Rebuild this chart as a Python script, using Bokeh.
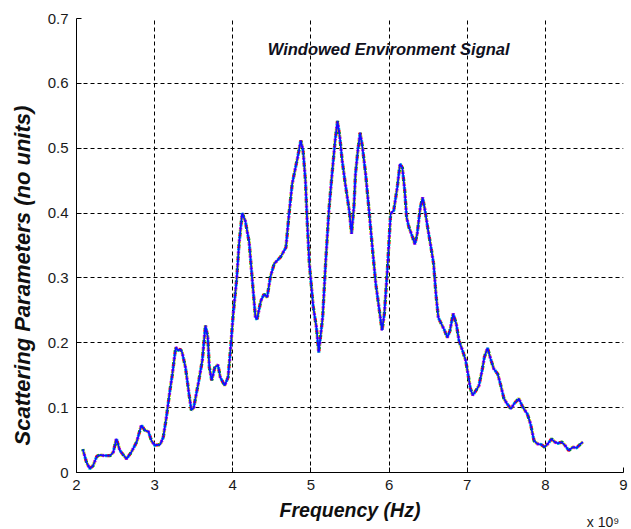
import math
from bokeh.plotting import figure
from bokeh.models import Range1d, FixedTicker, Label, Title
from bokeh.embed import file_html
from bokeh.resources import INLINE

# Frequency axis (units of 1e9 Hz) and the windowed scattering-parameter magnitude
freq_ghz = [
    2.08, 2.13, 2.17, 2.21, 2.26, 2.30, 2.36, 2.43, 2.47, 2.51, 2.555, 2.60, 2.64,
    2.70, 2.77, 2.83, 2.875, 2.92, 2.96, 3.00, 3.07, 3.11, 3.15, 3.195, 3.225, 3.27,
    3.30, 3.33, 3.35, 3.395, 3.44, 3.47, 3.50, 3.566, 3.61, 3.65, 3.68, 3.70, 3.73,
    3.77, 3.81, 3.84, 3.895, 3.94, 3.97, 4.006, 4.05, 4.08, 4.12, 4.16, 4.21, 4.25,
    4.29, 4.31, 4.36, 4.40, 4.44, 4.48, 4.53, 4.61, 4.68, 4.72, 4.76, 4.83, 4.87,
    4.90, 4.93, 4.95, 4.98, 5.03, 5.07, 5.10, 5.15, 5.19, 5.23, 5.27, 5.31, 5.34,
    5.37, 5.40, 5.44, 5.49, 5.52, 5.55, 5.57, 5.60, 5.63, 5.66, 5.70, 5.74, 5.79,
    5.83, 5.87, 5.91, 5.94, 5.98, 6.02, 6.06, 6.105, 6.14, 6.17, 6.20, 6.225, 6.255,
    6.30, 6.33, 6.36, 6.40, 6.43, 6.46, 6.50, 6.53, 6.57, 6.60, 6.63, 6.67, 6.71,
    6.745, 6.78, 6.82, 6.86, 6.895, 6.94, 6.98, 7.01, 7.04, 7.07, 7.11, 7.15, 7.19,
    7.22, 7.26, 7.30, 7.34, 7.39, 7.43, 7.47, 7.51, 7.56, 7.60, 7.66, 7.71, 7.77,
    7.81, 7.855, 7.90, 7.95, 7.99, 8.03, 8.08, 8.12, 8.16, 8.21, 8.25, 8.30, 8.35,
    8.40, 8.45, 8.48,
]
s_param = [
    0.036, 0.015, 0.006, 0.010, 0.025, 0.027, 0.026, 0.026, 0.031, 0.052, 0.034, 0.027, 0.021,
    0.031, 0.047, 0.073, 0.065, 0.063, 0.049, 0.042, 0.043, 0.054, 0.085, 0.126, 0.150, 0.193,
    0.188, 0.190, 0.186, 0.162, 0.121, 0.096, 0.100, 0.142, 0.173, 0.227, 0.209, 0.162, 0.142,
    0.162, 0.166, 0.147, 0.134, 0.147, 0.188, 0.245, 0.298, 0.352, 0.400, 0.388, 0.355, 0.296,
    0.239, 0.236, 0.265, 0.275, 0.270, 0.301, 0.322, 0.332, 0.347, 0.399, 0.445, 0.486, 0.512,
    0.496, 0.450, 0.393, 0.322, 0.255, 0.224, 0.185, 0.239, 0.327, 0.404, 0.460, 0.512, 0.542,
    0.517, 0.481, 0.445, 0.404, 0.368, 0.409, 0.460, 0.496, 0.524, 0.501, 0.460, 0.409, 0.342,
    0.291, 0.255, 0.219, 0.245, 0.316, 0.399, 0.404, 0.440, 0.476, 0.470, 0.435, 0.393, 0.378,
    0.363, 0.352, 0.368, 0.409, 0.424, 0.404, 0.373, 0.352, 0.322, 0.275, 0.239, 0.229, 0.219,
    0.208, 0.219, 0.245, 0.229, 0.203, 0.188, 0.173, 0.152, 0.130, 0.119, 0.126, 0.134, 0.157,
    0.178, 0.192, 0.175, 0.160, 0.152, 0.134, 0.114, 0.106, 0.098, 0.106, 0.114, 0.101, 0.090,
    0.075, 0.049, 0.044, 0.043, 0.039, 0.044, 0.052, 0.047, 0.045, 0.047, 0.042, 0.034, 0.039,
    0.038, 0.044, 0.047,
]

x_ticks = [2, 3, 4, 5, 6, 7, 8, 9]
y_ticks = [0, 0.1, 0.2, 0.3, 0.4, 0.5, 0.6, 0.7]
y_tick_labels = ["0", "0.1", "0.2", "0.3", "0.4", "0.5", "0.6", "0.7"]

# overlaid measurement traces drawn underneath the blue one
trace_colors = ["#00a000", "#ff0000", "#00c8c8", "#d000d0", "#c8c800"]
trace_offsets = [0, 2, 4, 7, 9]

font = "Liberation Sans"

p = figure(width=631, height=529, output_backend="svg", toolbar_location=None,
           x_range=Range1d(2, 9), y_range=Range1d(0, 0.7),
           min_border_left=76, min_border_right=8, min_border_top=18, min_border_bottom=57)
p.title_location = None
p.background_fill_color = "white"
p.border_fill_color = "white"
p.outline_line_color = None

for ax in (p.xaxis[0], p.yaxis[0]):
    ax.axis_line_color = "black"
    ax.axis_line_width = 1
    ax.major_tick_in = 5
    ax.major_tick_out = 0
    ax.minor_tick_line_color = None
    ax.major_tick_line_color = "black"
    ax.major_label_text_font = font
    ax.major_label_text_font_size = "15px"
    ax.major_label_text_color = "#1a1a1a"

p.xaxis.ticker = FixedTicker(ticks=x_ticks)
p.yaxis.ticker = FixedTicker(ticks=y_ticks)
p.yaxis.major_label_overrides = {t: s for t, s in zip(y_ticks, y_tick_labels)}
p.xaxis.major_label_standoff = 7
p.yaxis.major_label_standoff = 8

p.xaxis.axis_label = "Frequency (Hz)"
p.xaxis.axis_label_text_font = font
p.xaxis.axis_label_text_font_style = "bold italic"
p.xaxis.axis_label_text_font_size = "19.5px"
p.xaxis.axis_label_text_color = "#101010"
p.xaxis.axis_label_standoff = 6

for g in (p.xgrid[0], p.ygrid[0]):
    g.grid_line_color = "black"
    g.grid_line_dash = "4 3"
    g.grid_line_width = 1
    g.grid_line_alpha = 1.0

# colored measurement traces, speckled beneath the blue trace
for c, off in zip(trace_colors, trace_offsets):
    p.line(freq_ghz, s_param, line_color=c, line_width=3.3,
           line_dash="2 10", line_dash_offset=off)
p.line(freq_ghz, s_param, line_color="#1010ff", line_width=1.8)

p.add_layout(Label(x=5.995, y=0.653, text="Windowed Environment Signal",
                   text_font=font, text_font_style="bold italic",
                   text_font_size="16.5px", text_color="#101020",
                   text_align="center", text_baseline="middle"))

# vertical axis title, starting a little above the bottom of the axis
p.add_layout(Title(text="Scattering Parameters (no units)", align="left", offset=27,
                   vertical_align="middle", standoff=17, text_font=font,
                   text_font_style="bold italic", text_font_size="22px",
                   text_color="#101010"), "left")

# exponent of the frequency axis, drawn under the right end of the axis
p.add_layout(Label(x=8.53, y=-0.0765, text="x 10\u2079",
                   text_font=font, text_font_size="14px", text_color="#1a1a1a",
                   text_align="left", text_baseline="alphabetic"), "above")

open("out.html", "w").write(file_html(p, INLINE))
